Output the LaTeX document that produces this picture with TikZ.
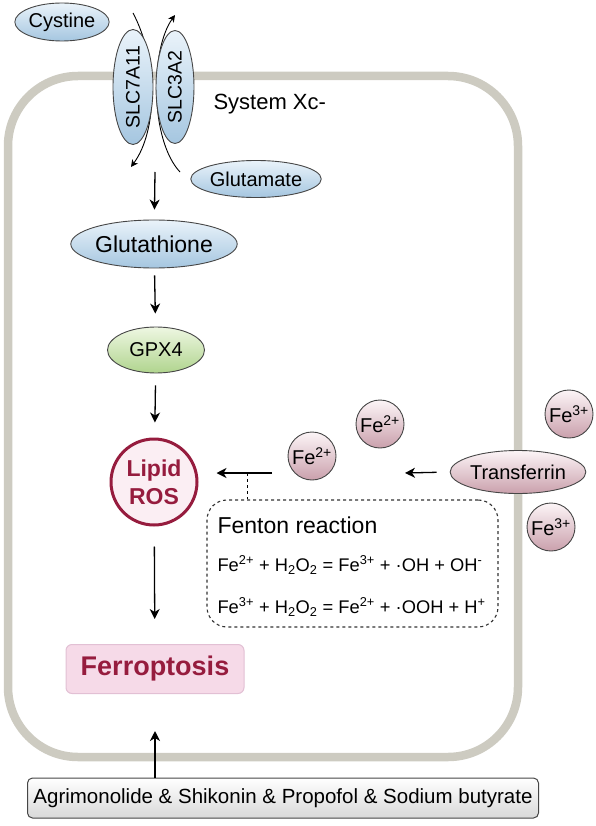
\documentclass[tikz,border=0pt]{standalone}
\usepackage{fontspec}
\setmainfont{Liberation Sans}
\usetikzlibrary{shapes.geometric,arrows.meta}

\definecolor{membrane}{RGB}{205,203,193}
\definecolor{edge}{RGB}{70,70,70}
\definecolor{bluetop}{RGB}{234,243,250}
\definecolor{bluebot}{RGB}{165,198,224}
\definecolor{greentop}{RGB}{238,247,226}
\definecolor{greenbot}{RGB}{176,212,142}
\definecolor{pinktop}{RGB}{252,245,247}
\definecolor{pinkbot}{RGB}{202,160,172}
\definecolor{rosred}{RGB}{150,28,62}
\definecolor{rosfill}{RGB}{251,238,243}
\definecolor{ferrofill}{RGB}{246,218,232}
\definecolor{ferroedge}{RGB}{226,192,212}

\tikzset{
  blueoval/.style={ellipse,draw=edge,line width=0.9pt,top color=bluetop,bottom color=bluebot,inner sep=0pt,font=\fontsize{20}{22}\selectfont},
  greenoval/.style={ellipse,draw=edge,line width=0.9pt,top color=greentop,bottom color=greenbot,inner sep=0pt,font=\fontsize{20}{22}\selectfont},
  ironball/.style={circle,draw=edge,line width=0.9pt,top color=pinktop,bottom color=pinkbot,inner sep=0pt,minimum size=48pt,font=\fontsize{20}{22}\selectfont},
  arr/.style={black,-{Stealth[length=10pt,width=10pt,inset=3pt]},line width=1.3pt},
  thinarr/.style={black,-{Stealth[length=7pt,width=7pt,inset=2pt]},line width=0.9pt},
}

\begin{document}
\begin{tikzpicture}[x=1pt,y=-1pt]
   \useasboundingbox (0,0) rectangle (596,826);
   % cell membrane
   \draw[membrane,line width=8.5pt,rounded corners=70pt] (8,76) rectangle (518,757);
   % transport through system Xc-
   \coordinate (cysin) at (133,13);
   \coordinate (cysout) at (131,167);
   \coordinate (gluin) at (180,172);
   \coordinate (gluout) at (175,15);
   \draw[thinarr] (cysin) .. controls (158,60) and (158,130) .. (cysout);
   \draw[thinarr] (gluin) .. controls (150,140) and (150,50) .. (gluout);
   \node[blueoval,minimum width=40pt,minimum height=115pt] (slc7) at (133,87) {};
   \node[blueoval,minimum width=38pt,minimum height=113pt] (slc3) at (175,87) {};
   \node[rotate=90,font=\fontsize{19.5}{22}\selectfont] at (slc7) {SLC7A11};
   \node[rotate=90,font=\fontsize{19.5}{22}\selectfont] at (slc3) {SLC3A2};
   \node[blueoval,minimum width=90pt,minimum height=38pt] (cystine) at (62,22) {Cystine};
   \node[blueoval,minimum width=118pt,minimum height=37pt] (glutamate) at (256,179) {Glutamate};
   \node[anchor=west,font=\fontsize{22}{24}\selectfont] (xc) at (210,104) {System Xc-};
   % glutathione pathway
   \node[blueoval,minimum width=137pt,minimum height=48pt,font=\fontsize{23}{25}\selectfont] (gsh) at (154,244) {Glutathione};
   \node[greenoval,minimum width=97pt,minimum height=46pt] (gpx) at (156,350) {GPX4};
   \node[circle,draw=rosred,line width=3pt,fill=rosfill,minimum size=86pt,inner sep=0pt,text=rosred,align=center,font=\bfseries\fontsize{23}{28}\selectfont] (lipid) at (154,482) {Lipid\\ROS};
   \node[rectangle,rounded corners=6pt,draw=ferroedge,line width=1pt,fill=ferrofill,minimum width=178pt,minimum height=49pt,text=rosred,font=\bfseries\fontsize{27}{30}\selectfont] (ferro) at (155,669) {Ferroptosis};
   \node[rectangle,rounded corners=5pt,draw=edge,line width=1pt,top color=white,bottom color=black!15,minimum width=511pt,minimum height=40pt,font=\fontsize{20.5}{22}\selectfont] (agri) at (283,798) {Agrimonolide \& Shikonin \& Propofol \& Sodium butyrate};
   \coordinate (xcend) at (155,172);
   \draw[arr,shorten >=10pt] (xcend) -- (gsh);
   \draw[arr,shorten <=7pt,shorten >=13pt] (gsh) -- (gpx);
   \draw[arr,shorten <=12pt,shorten >=15pt] (gpx) -- (lipid);
   \draw[arr,shorten <=20pt,shorten >=25pt] (lipid) -- (ferro);
   \draw[arr,shorten >=37pt] (ferro |- agri.north) -- (ferro.south);
   % iron uptake
   \node[ironball] (fe3a) at (569,414) {Fe\textsuperscript{3+}};
   \node[ironball] (fe3b) at (551,527) {Fe\textsuperscript{3+}};
   \node[ellipse,draw=edge,line width=0.9pt,top color=pinktop,bottom color=pinkbot,inner sep=0pt,minimum width=116pt,minimum height=43pt,font=\fontsize{20}{22}\selectfont] (tf) at (518,472) {Transferrin};
   \node[ironball] (fe2a) at (380,424) {Fe\textsuperscript{2+}};
   \node[ironball] (fe2b) at (312,456) {Fe\textsuperscript{2+}};
   \coordinate (tfend) at (405,473);
   \draw[arr,shorten <=13pt] (tf.west) -- (tfend);
   \coordinate (fein) at (272,473);
   \draw[arr,shorten >=18pt] (fein) -- (lipid.east |- fein);
   % Fenton reaction
   \node[rectangle,draw=black!80,dashed,line width=1.1pt,rounded corners=20pt,minimum width=291pt,minimum height=127pt] (fenton) at (352.5,563.5) {};
   \node[anchor=west,font=\fontsize{23}{25}\selectfont] (fentitle) at (214,525) {Fenton reaction};
   \node[anchor=west,font=\fontsize{18.3}{20}\selectfont] (eqa) at (214,565) {Fe\textsuperscript{2+} + H\textsubscript{2}O\textsubscript{2} = Fe\textsuperscript{3+} + {\textperiodcentered}OH + OH\textsuperscript{-}};
   \node[anchor=west,font=\fontsize{18.3}{20}\selectfont] (eqb) at (214,607) {Fe\textsuperscript{3+} + H\textsubscript{2}O\textsubscript{2} = Fe\textsuperscript{2+} + {\textperiodcentered}OOH + H\textsuperscript{+}};
   \coordinate (fork) at (247,473);
   \draw[dashed,line width=1pt] (fork) -- (fork |- fenton.north);
\end{tikzpicture}
\end{document}
